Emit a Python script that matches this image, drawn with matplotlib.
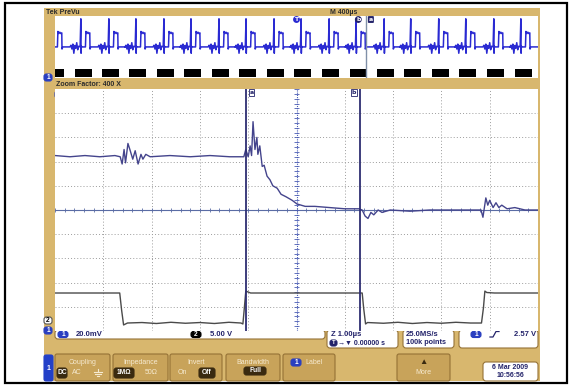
import matplotlib.pyplot as plt
import numpy as np
from matplotlib.patches import FancyBboxPatch, Rectangle

# ---- zoom window, channel 1 (time in us from trigger, level in mV) ----
ch1_t = [-5.00, -4.69, -4.38, -4.07, -3.76, -3.65, -3.61, -3.57, -3.54, -3.49,
         -3.45, -3.39, -3.34, -3.28, -3.22, -3.18, -3.12, -3.03, -2.62, -2.20,
         -1.79, -1.38, -1.09, -1.05, -1.00, -0.96, -0.93, -0.90, -0.86, -0.82,
         -0.80, -0.76, -0.71, -0.67, -0.61, -0.55, -0.49, -0.40, -0.32, -0.22,
         -0.09, 0.01, 0.18, 0.38, 0.69, 1.00, 1.29, 1.36, 1.42, 1.48,
         1.54, 1.60, 1.69, 1.77, 1.94, 2.35, 2.76, 3.18, 3.59, 3.82,
         3.86, 3.92, 3.96, 4.00, 4.07, 4.13, 4.19, 4.25, 4.36, 4.52,
         4.73, 5.00]
ch1_mv = [2773, 2772, 2773, 2772, 2773, 2772, 2766, 2778, 2767, 2783,
          2778, 2770, 2777, 2766, 2774, 2770, 2774, 2772, 2773, 2772,
          2773, 2772, 2772, 2778, 2772, 2781, 2773, 2801, 2778, 2788,
          2774, 2781, 2764, 2765, 2756, 2753, 2748, 2746, 2741, 2739,
          2736, 2733, 2731, 2731, 2730, 2729, 2729, 2728, 2723, 2721,
          2726, 2724, 2728, 2726, 2728, 2727, 2728, 2728, 2728, 2728,
          2722, 2738, 2732, 2736, 2730, 2734, 2730, 2732, 2729, 2730,
          2728, 2728]

# ---- zoom window, channel 2 (time in us, level in V) ----
ch2_t = [-5.00, -4.3, -3.66, -3.62, -3.58, -3.50, -3.2, -2.9, -2.6, -2.3,
         -2.0, -1.7, -1.4, -1.15, -1.11, -1.08, -1.05, -0.95, 0.0, 1.0,
         1.36, 1.39, 1.43, 1.47, 1.8, 2.1, 2.4, 2.7, 3.0, 3.3,
         3.6, 3.83, 3.87, 3.90, 3.94, 4.1, 5.00]
ch2_v = [6.1, 6.1, 6.1, 2.5, -0.5, -0.1, 0.0, -0.2, 0.05, -0.15,
         0.0, -0.2, 0.05, -0.1, -0.3, 3.0, 6.5, 6.1, 6.1, 6.1,
         6.1, 3.0, -0.3, 0.0, -0.15, 0.05, -0.2, 0.0, -0.15, 0.05,
         -0.1, -0.1, 3.0, 6.5, 6.2, 6.1, 6.1]

cursor_a_us = -1.05
cursor_b_us = 1.31
readout = [("a", "577µs", "2.769 V"),
           ("b", "579µs", "2.728 V"),
           ("", "Δ2.36µs", "Δ41.71mV")]

# ---- record preview (x in divisions of 400us) ----
preview_rise_div = [0.06, 0.64, 1.22, 1.78, 2.36, 2.92, 3.50, 4.06, 4.64,
                    5.20, 5.78, 6.34, 6.92, 7.47, 8.05, 8.61, 9.19, 9.75]
# one burst as seen around each rising edge
preview_shape_dt = [-0.33, -0.31, -0.29, -0.27, -0.25, -0.23, -0.21, -0.19,
                    -0.17, -0.15, -0.12, -0.105, -0.10, -0.095, -0.08, -0.01,
                    0.0, 0.02, 0.04, 0.06, 0.08, 0.085, 0.10, 0.24]
preview_shape_lvl = [0.0, 0.12, -0.15, 0.2, -0.45, 0.1, -0.1, 0.3,
                     -0.2, 0.05, 0.0, 2.0, -0.45, 0.05, 0.0, 0.0,
                     1.1, 0.95, 1.05, 0.95, 1.0, -0.15, 0.0, 0.0]
preview_block_start = [-0.17, 0.41, 0.97, 1.53, 2.11, 2.67, 3.25, 3.81, 4.39,
                       4.95, 5.53, 6.11, 6.67, 7.23, 7.81, 8.36, 8.94, 9.52]
preview_block_width = 0.35
zoom_pos_div = 6.44

CH1_CENTER_MV = 2728
CH1_MV_PER_DIV = 20
CH2_V_PER_DIV = 5
CH2_POS_DIV = -4.65

TAN = "#d8b76e"
BTN = "#c8a35a"
BTN_EDGE = "#957236"
NAVY = "#23236a"
CH1_COL = "#44448c"
CH2_COL = "#4a4a4a"
PRE_COL = "#2a2ad2"
CREAM = "#f6ead0"
DARK = "#3a2a10"
FONT = "Liberation Sans"

W, H = 573, 387
fig = plt.figure(figsize=(W / 100, H / 100), dpi=100)
bg = fig.add_axes([0, 0, 1, 1])
bg.set_xlim(0, W)
bg.set_ylim(H, 0)
bg.axis("off")


def px_axes(x0, y0, x1, y1):
    a = fig.add_axes([x0 / W, 1 - y1 / H, (x1 - x0) / W, (y1 - y0) / H])
    a.set_xticks([])
    a.set_yticks([])
    for s in a.spines.values():
        s.set_visible(False)
    a.set_facecolor("white")
    return a


def box(x0, y0, x1, y1, fc, ec=None, lw=0.8, r=2.0, z=1):
    bg.add_patch(FancyBboxPatch((x0, y0), x1 - x0, y1 - y0,
                                boxstyle=f"round,pad=0,rounding_size={r}",
                                fc=fc, ec=ec if ec else fc, lw=lw, zorder=z))


def txt(x, y, s, size=5.5, color=NAVY, ha="left", weight="bold"):
    bg.text(x, y, s, fontsize=size, color=color, ha=ha, va="center",
            fontweight=weight, family=[FONT, "DejaVu Sans"], zorder=5)


def pill(x0, y0, x1, y1, s, fc="#2a3fc0", tc="white", ec=None, size=4.8):
    box(x0, y0, x1, y1, fc, ec, r=2.5, z=3)
    txt((x0 + x1) / 2, (y0 + y1) / 2, s, size=size, color=tc, ha="center")


# frame and bezel
bg.add_patch(Rectangle((5, 3), 562, 380, fill=False, ec="black", lw=1.6))
bg.add_patch(Rectangle((44, 8), 496, 373, fc=TAN, ec="none"))
txt(46, 12, "Tek PreVu", size=5, color="#2b2b2b")
txt(330, 12, "M 400µs", size=5, color="#2b2b2b")
txt(56, 84, "Zoom Factor: 400 X", size=5, color="#2b2b2b")

# preview of the whole record
pv = px_axes(55, 16, 538, 68)
pv.set_xlim(0, 10)
pv.set_ylim(-1.5, 2.2)
px, py = [], []
for r in preview_rise_div:
    px += [r + d for d in preview_shape_dt]
    py += preview_shape_lvl
pv.plot(px, py, color=PRE_COL, lw=1.1)
pv.axvline(zoom_pos_div, color="#8090a8", lw=1.0)
pv.text(5.0, 1.95, "T", fontsize=4.5, color="white", ha="center", va="center",
        fontweight="bold", bbox=dict(boxstyle="circle,pad=0.15", fc=PRE_COL, ec="none"))
pv.text(zoom_pos_div - 0.16, 1.95, "b", fontsize=4.5, color="white", ha="center",
        va="center", fontweight="bold",
        bbox=dict(boxstyle="circle,pad=0.15", fc=NAVY, ec="none"))
pv.text(zoom_pos_div + 0.1, 1.95, "a", fontsize=4.5, color="white", ha="center",
        va="center", fontweight="bold",
        bbox=dict(boxstyle="round,pad=0.15", fc=NAVY, ec="none"))

bk = px_axes(55, 68, 538, 78)
bk.set_xlim(0, 10)
bk.set_ylim(0, 1)
for s in preview_block_start:
    bk.add_patch(Rectangle((s, 0.1), preview_block_width, 0.8, fc="black", ec="none"))
bk.axvline(zoom_pos_div, color="#8090a8", lw=1.0)
pill(44, 74, 52, 81, "1")

# zoom window graticule
ax = px_axes(55, 89, 538, 331)
ax.set_xlim(-5, 5)
ax.set_ylim(-5, 5)
for k in range(-4, 5):
    if k == 0:
        continue
    ax.axvline(k, color="#9c9c9c", lw=0.7, ls=(0, (1, 2.2)))
    ax.axhline(k, color="#9c9c9c", lw=0.7, ls=(0, (1, 2.2)))
ax.axhline(0, color="#5a6ca4", lw=0.8)
ax.axvline(0, color="#4a5cb4", lw=0.8, ls=(0, (1, 1)))
minor = np.arange(-5, 5.01, 0.2)
ax.vlines(minor, -0.09, 0.09, color="#5a6ca4", lw=0.6)
ax.hlines(minor, -0.05, 0.05, color="#4a5cb4", lw=0.6)

ch1_div = (np.array(ch1_mv) - CH1_CENTER_MV) / CH1_MV_PER_DIV
ch2_div = np.array(ch2_v) / CH2_V_PER_DIV + CH2_POS_DIV
ax.plot(ch2_t, ch2_div, color=CH2_COL, lw=1.0, zorder=3)
ax.plot(ch1_t, ch1_div, color=CH1_COL, lw=1.0, zorder=4)
ax.axvline(cursor_a_us, color="#2e2e72", lw=1.3, zorder=5)
ax.axvline(cursor_b_us, color="#2e2e72", lw=1.3, zorder=5)
lab = dict(fontsize=4.5, color=NAVY, fontweight="bold", va="center",
           xycoords=("data", "axes fraction"), textcoords="offset points",
           bbox=dict(boxstyle="square,pad=0.12", fc="white", ec=NAVY, lw=0.6))
ax.annotate("a", xy=(cursor_a_us, 0.985), xytext=(2.5, 0), ha="left", **lab)
ax.annotate("b", xy=(cursor_b_us, 0.985), xytext=(-2.5, 0), ha="right", **lab)
pill(55, 91, 62, 98, "1")

# cursor readout
box(399, 100, 537, 138, "white", "#6a4a5c", lw=1.0, r=4, z=4)
for i, (tag, tval, vval) in enumerate(readout):
    y = 105 + i * 9.3
    if tag:
        pill(412, y - 3, 419, y + 3, tag, fc=NAVY)
        txt(434, y, tval, size=5)
    else:
        txt(428, y, tval, size=5)
    txt(528, y, vval, size=5, ha="right")

# channel and timebase info
pill(44, 317, 52, 324, "2", fc="white", tc="black", ec="#555555")
pill(44, 327, 52, 334, "1")
box(55, 330, 325, 339, "white", BTN_EDGE, r=3, z=2)
pill(58, 331.5, 68, 337.5, "1")
txt(76, 334.5, "20.0mV")
pill(191, 331.5, 201, 337.5, "2", fc="black")
txt(210, 334.5, "5.00 V")

box(327, 330, 398, 348, "white", BTN_EDGE, r=3, z=2)
txt(331, 334.5, "Z 1.00µs")
pill(330, 340, 337, 346, "T", fc=NAVY, size=4.2)
txt(338, 343, "→▼ 0.00000 s", size=5)
box(403, 330, 454, 348, "white", BTN_EDGE, r=3, z=2)
txt(406, 334.5, "25.0MS/s")
txt(406, 343, "100k points", size=5.2)
box(459, 330, 538, 348, "white", BTN_EDGE, r=3, z=2)
pill(471, 331.5, 481, 337.5, "1")
bg.plot([490, 493, 496, 499], [337, 337, 331.5, 331.5], color=NAVY, lw=0.9, zorder=5)
txt(536, 334.5, "2.57 V", ha="right")

# soft-key menu
box(44, 355, 53, 381, "#2340c8", r=2, z=2)
txt(48.5, 368, "1", size=5, color="white", ha="center")
menu = [("Coupling", 55, 110), ("Impedance", 113, 168),
        ("Invert", 170, 222), ("Bandwidth", 226, 280)]
for name, x0, x1 in menu:
    box(x0, 354, x1, 381, BTN, BTN_EDGE, r=2, z=2)
    txt((x0 + x1) / 2, 362, name, size=5, color=CREAM, weight="normal", ha="center")
pill(57, 368, 67, 378, "DC", fc=DARK, size=4.8)
txt(77, 373, "AC", size=5, color=CREAM, weight="normal", ha="center")
# ground symbol (no installed font has the glyph)
bg.plot([98, 98], [368.5, 372], color=CREAM, lw=0.8, zorder=5)
for half, yy in [(4, 372), (2.6, 374), (1.2, 376)]:
    bg.plot([98 - half, 98 + half], [yy, yy], color=CREAM, lw=0.8, zorder=5)
pill(114, 368, 134, 378, "1MΩ", fc=DARK, size=4.8)
txt(151, 373, "50Ω", size=5, color=CREAM, weight="normal", ha="center")
txt(182, 373, "On", size=5, color=CREAM, weight="normal", ha="center")
pill(199, 368, 215, 378, "Off", fc=DARK, size=4.8)
pill(244, 367, 266, 375, "Full", fc=DARK, size=4.8)

box(283, 354, 335, 381, BTN, BTN_EDGE, r=2, z=2)
pill(291, 359, 301, 366, "1")
txt(305, 362.5, "Label", size=5, color=CREAM, weight="normal")
box(397, 354, 450, 381, BTN, BTN_EDGE, r=2, z=2)
txt(423.5, 362, "▲", size=6, color=DARK, ha="center")
txt(423.5, 373, "More", size=5, color=CREAM, weight="normal", ha="center")
box(483, 362, 538, 381, "white", BTN_EDGE, r=3, z=2)
txt(510.5, 367.5, "6 Mar 2009", size=5, ha="center")
txt(510.5, 375.5, "10:56:56", size=5, ha="center")

fig.savefig("out.png", dpi=100)
